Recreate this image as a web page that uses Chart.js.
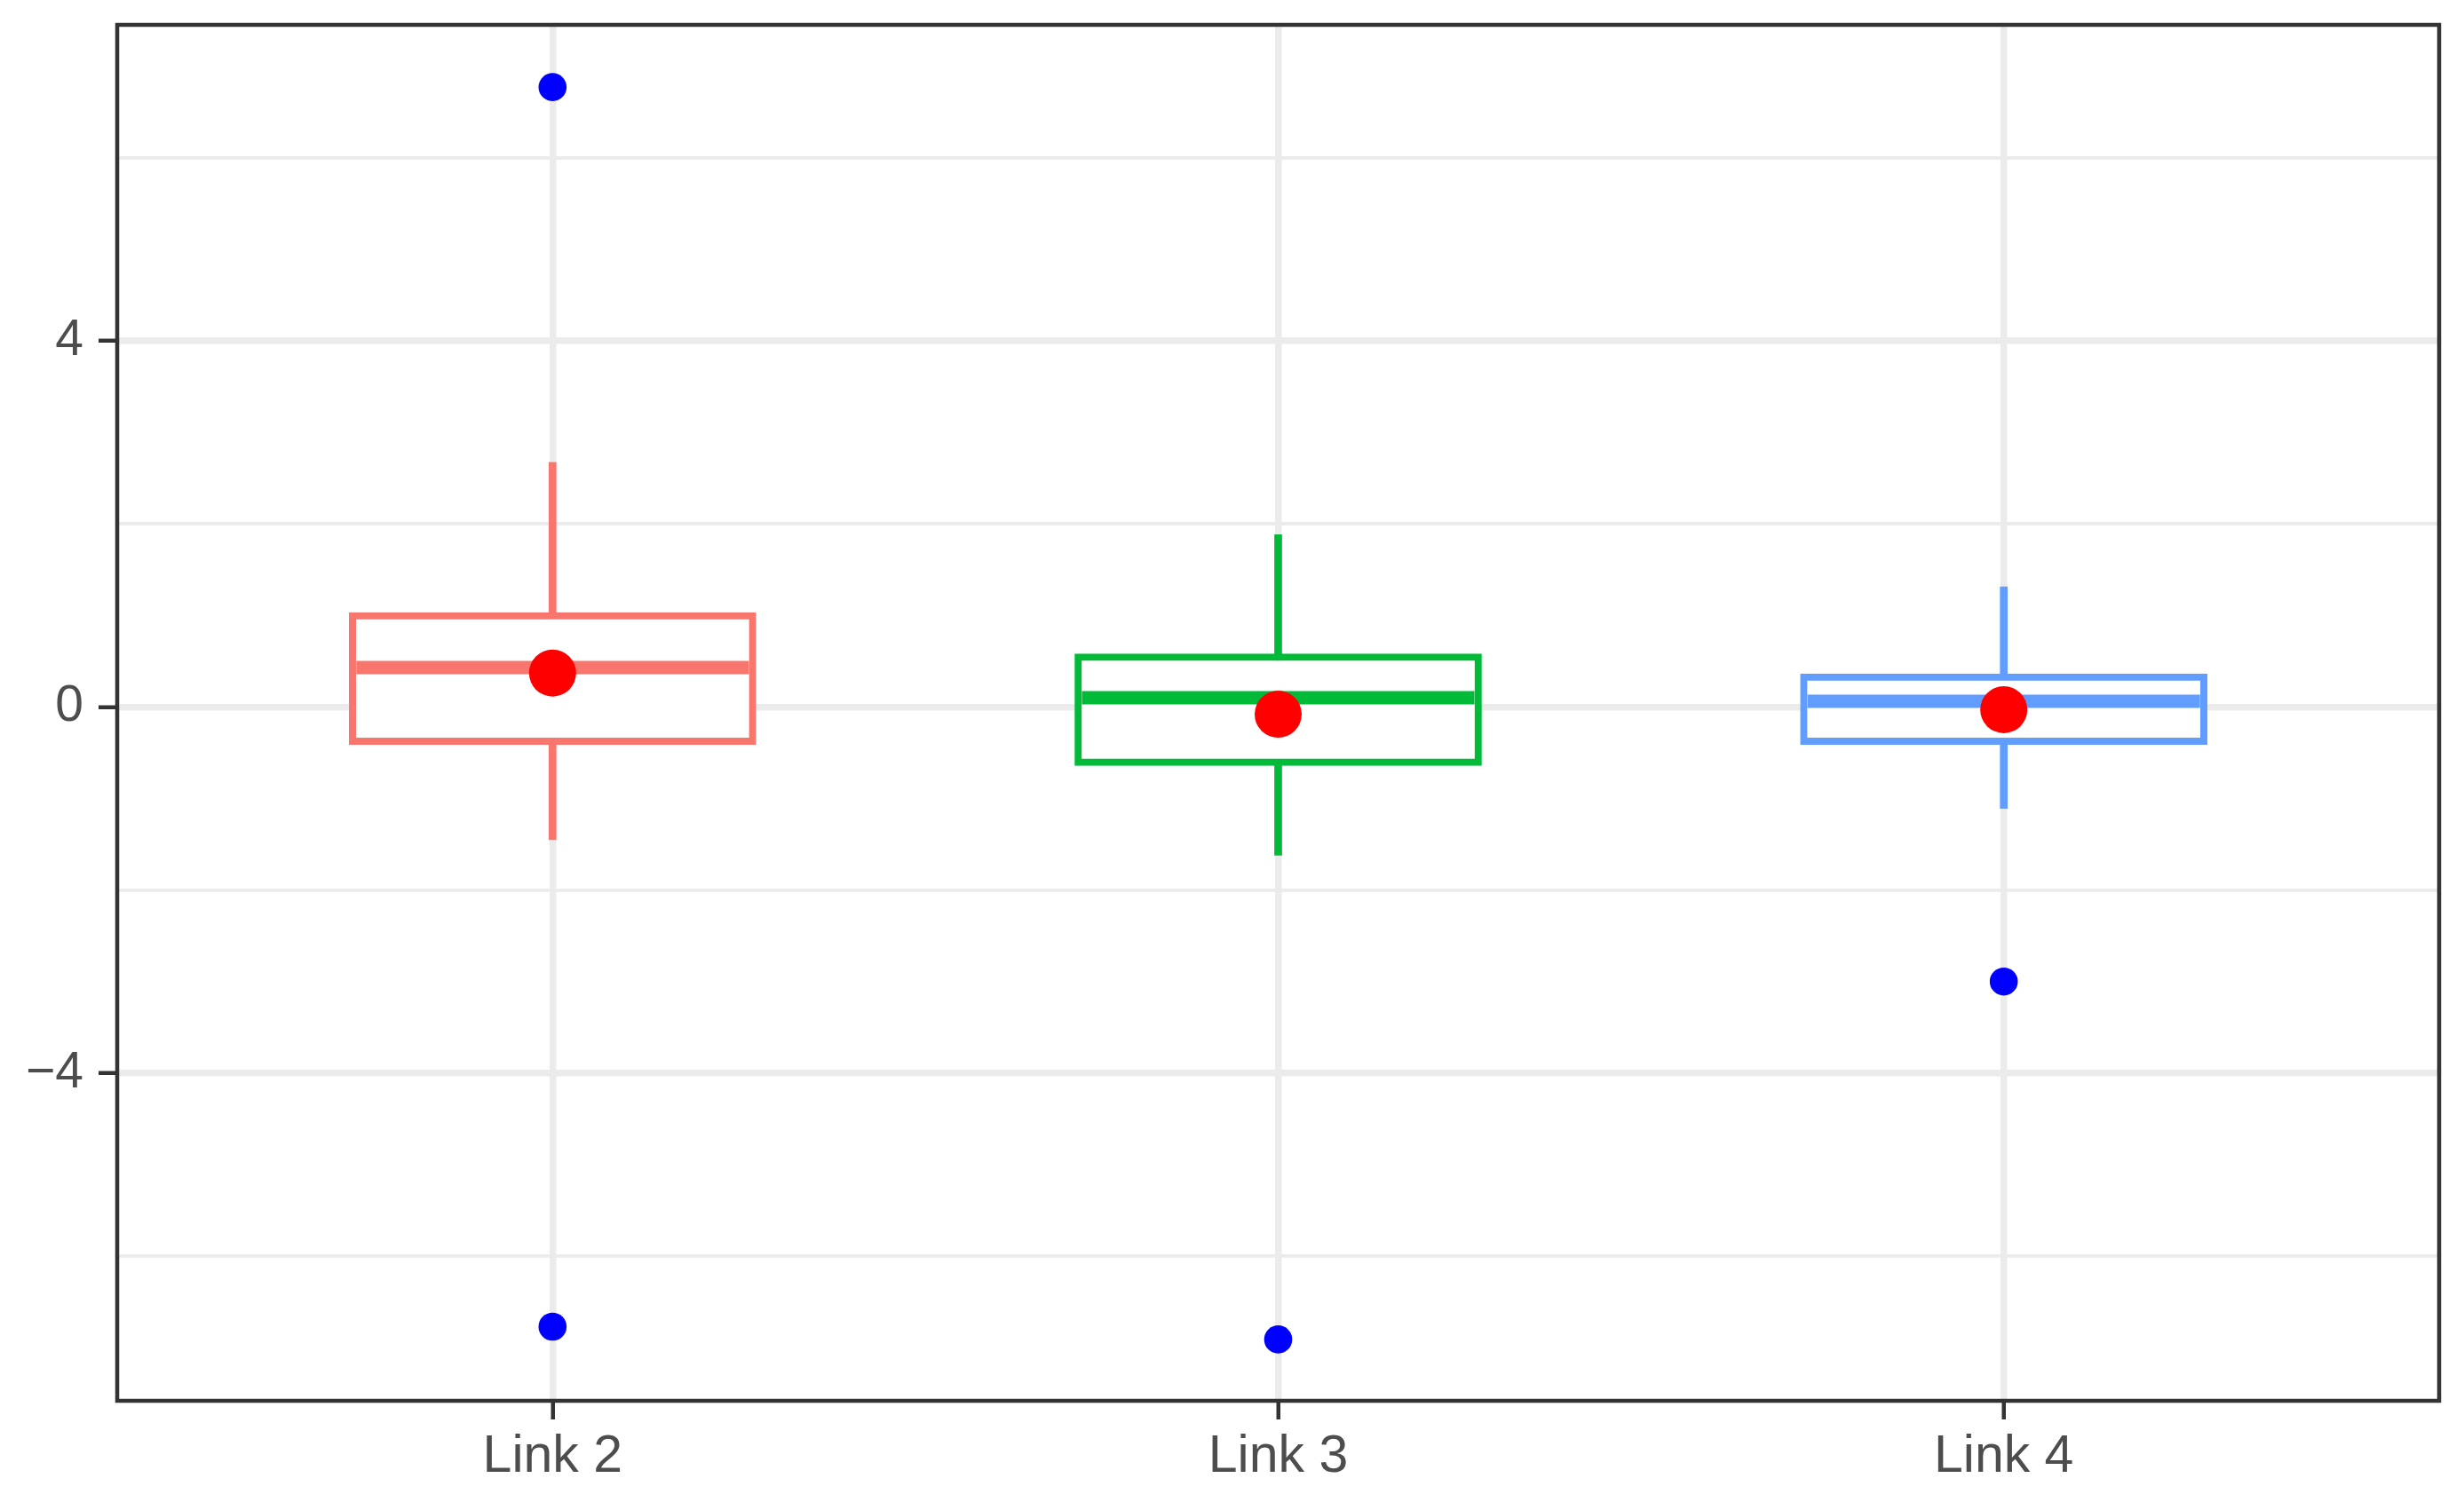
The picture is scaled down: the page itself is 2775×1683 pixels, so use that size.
<!DOCTYPE html>
<html>
<head>
<meta charset="utf-8">
<script src="https://cdn.jsdelivr.net/npm/chart.js@4.4.1/dist/chart.umd.min.js"></script>
<style>
  html, body { margin: 0; padding: 0; background: #ffffff; }
  canvas { display: block; }
</style>
</head>
<body>
<canvas id="myChart" width="2775" height="1683"></canvas>
<script>
"use strict";

// values
const categories = ['Link 2', 'Link 3', 'Link 4'];
const lowerWhisker = [-1.45, -1.62, -1.11];
const q1 = [-0.41, -0.64, -0.41];
const median = [0.43, 0.10, 0.06];
const q3 = [1.03, 0.58, 0.36];
const upperWhisker = [2.67, 1.88, 1.31];
const means = [0.37, -0.08, -0.03];
const outliers = [[6.77, -6.77], [-6.91], [-3.00]];
const boxColors = ['#F8766D', '#00BA38', '#619CFF'];
const yMajorTicks = [-4, 0, 4];

const boxData = categories.map((c, i) => ({ x: i + 1, y: [q1[i], q3[i]] }));
const whiskerData = categories.map((c, i) => ({ x: i + 1, y: [lowerWhisker[i], upperWhisker[i]] }));
const medianData = categories.map((c, i) => ({ x: i + 1, y: median[i] }));
const meanData = categories.map((c, i) => ({ x: i + 1, y: means[i] }));
const outlierData = [];
outliers.forEach((list, i) => list.forEach(v => outlierData.push({ x: i + 1, y: v })));

const fmtTick = v => (v < 0 ? '\u2212' + Math.abs(v) : String(v));

// panel border drawn over everything, like the ggplot theme
const panelBorder = {
	id: 'panelBorder',
	afterDraw(chart) {
		const a = chart.chartArea;
		const ctx = chart.ctx;
		ctx.save();
		ctx.strokeStyle = '#333333';
		ctx.lineWidth = 4.5;
		ctx.strokeRect(a.left, a.top, a.right - a.left, a.bottom - a.top);
		ctx.restore();
	}
};

const config = {
	type: 'bar',
	data: {
		datasets: [
			{
				label: 'whisker',
				data: whiskerData,
				backgroundColor: boxColors,
				borderWidth: 0,
				barThickness: 8,
				grouped: false,
				order: 4
			},
			{
				label: 'box',
				data: boxData,
				backgroundColor: '#ffffff',
				borderColor: boxColors,
				borderWidth: 8,
				borderSkipped: false,
				barThickness: 458,
				grouped: false,
				order: 3
			},
			{
				type: 'scatter',
				label: 'median',
				data: medianData,
				pointStyle: 'line',
				pointRadius: 221,
				pointBorderWidth: 15,
				pointBorderColor: boxColors,
				order: 2
			},
			{
				type: 'scatter',
				label: 'mean',
				data: meanData,
				pointRadius: 26.5,
				pointBackgroundColor: '#FF0000',
				pointBorderWidth: 0,
				order: 1
			},
			{
				type: 'scatter',
				label: 'outliers',
				data: outlierData,
				pointRadius: 15.8,
				pointBackgroundColor: '#0000FF',
				pointBorderWidth: 0,
				order: 0
			}
		]
	},
	options: {
		responsive: false,
		animation: false,
		devicePixelRatio: 1,
		layout: { autoPadding: false, padding: { left: 0, top: 28, right: 28, bottom: 0 } },
		plugins: {
			legend: { display: false },
			tooltip: { enabled: false }
		},
		scales: {
			x: {
				type: 'linear',
				min: 0.4,
				max: 3.6,
				offset: false,
				afterBuildTicks: axis => { axis.ticks = categories.map((c, i) => ({ value: i + 1 })); },
				afterFit: axis => {
					axis.height = 105;
					axis.paddingLeft = 0;
					axis.paddingRight = 0;
				},
				border: { display: false },
				grid: {
					offset: false,
					color: '#EBEBEB',
					lineWidth: 7.5,
					tickColor: '#333333',
					tickWidth: 4.5,
					tickLength: 21
				},
				ticks: {
					padding: 7,
					color: '#4D4D4D',
					font: { family: '"Liberation Sans", Arial, sans-serif', size: 59 },
					callback: v => categories[v - 1] || ''
				}
			},
			y: {
				type: 'linear',
				min: -7.58,
				max: 7.45,
				afterFit: axis => {
					axis.width = 132;
					axis.paddingTop = 0;
					axis.paddingBottom = 0;
				},
				border: { display: false },
				grid: {
					color: '#EBEBEB',
					lineWidth: c => (yMajorTicks.includes(c.tick.value) ? 7.5 : 3.7),
					tickColor: c => (yMajorTicks.includes(c.tick.value) ? '#333333' : 'rgba(0,0,0,0)'),
					tickWidth: 4.5,
					tickLength: 21
				},
				ticks: {
					stepSize: 2,
					includeBounds: false,
					padding: 17,
					color: '#4D4D4D',
					font: { family: '"Liberation Sans", Arial, sans-serif', size: 57 },
					callback: v => (yMajorTicks.includes(v) ? fmtTick(v) : '')
				}
			}
		}
	},
	plugins: [panelBorder]
};

const myChart = new Chart(document.getElementById('myChart'), config);
</script>
</body>
</html>
